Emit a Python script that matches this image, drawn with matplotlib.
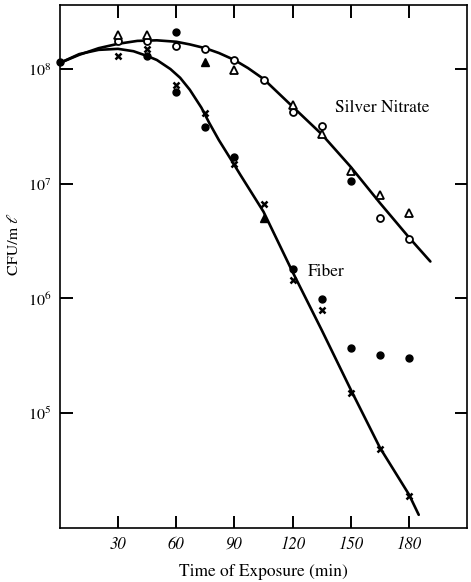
import matplotlib
matplotlib.use("Agg")
import matplotlib.pyplot as plt

plt.rcParams['font.family'] = ['STIXGeneral', 'DejaVu Serif']
plt.rcParams['mathtext.fontset'] = 'stix'

# ---- data (time in min, CFU/ml) ----
start_t = [0]
start_v = [1.15e8]

# Silver nitrate replicates
ag_circle_t = [30, 45, 60, 75, 90, 105, 120, 135, 165, 180]
ag_circle_v = [1.75e8, 1.75e8, 1.6e8, 1.5e8, 1.2e8, 8.0e7, 4.2e7, 3.2e7, 5.0e6, 3.3e6]
ag_tri_t = [30, 45, 90, 120, 135, 150, 165, 180]
ag_tri_v = [2.0e8, 2.0e8, 9.8e7, 4.9e7, 2.7e7, 1.3e7, 8.0e6, 5.6e6]
ag_fill_circle_t = [60, 150]
ag_fill_circle_v = [2.1e8, 1.05e7]
ag_fill_tri_t = [75]
ag_fill_tri_v = [1.15e8]

# Fiber replicates
fb_x_t = [30, 45, 60, 75, 90, 105, 120, 135, 150, 165, 180]
fb_x_v = [1.3e8, 1.5e8, 7.2e7, 4.1e7, 1.5e7, 6.6e6, 1.45e6, 7.9e5, 1.5e5, 4.9e4, 1.9e4]
fb_dot_t = [45, 60, 75, 90, 120, 135, 150, 165, 180]
fb_dot_v = [1.3e8, 6.3e7, 3.1e7, 1.7e7, 1.8e6, 9.8e5, 3.7e5, 3.2e5, 3.0e5]
fb_tri_t = [105]
fb_tri_v = [5.0e6]

# Fitted curves
ag_curve_t = [0, 10, 20, 30, 40, 50, 60, 67, 75, 82, 90, 97, 105, 120, 135, 150, 165, 180, 191]
ag_curve_v = [1.13e8, 1.33e8, 1.52e8, 1.66e8, 1.76e8, 1.78e8, 1.73e8, 1.64e8, 1.52e8,
              1.38e8, 1.2e8, 1.02e8, 8.2e7, 4.7e7, 2.7e7, 1.4e7, 6.8e6, 3.4e6, 2.1e6]
fb_curve_t = [0, 10, 20, 30, 38, 45, 50, 57, 62, 67, 73, 77, 82, 88, 93, 105, 120,
              135, 150, 165, 180, 185]
fb_curve_v = [1.13e8, 1.35e8, 1.47e8, 1.5e8, 1.43e8, 1.3e8, 1.2e8, 1.0e8, 8.4e7,
              6.6e7, 4.6e7, 3.4e7, 2.4e7, 1.65e7, 1.2e7, 5.7e6, 1.7e6,
              5.3e5, 1.6e5, 5.0e4, 1.95e4, 1.3e4]

x_ticks = [30, 60, 90, 120, 150, 180]
y_ticks = [1e5, 1e6, 1e7, 1e8]
y_ticklabels = [r'$10^5$', r'$10^6$', r'$10^7$', r'$10^8$']

fig = plt.figure(figsize=(4.71, 5.82), dpi=100)
ax = fig.add_axes([0.127, 0.093, 0.865, 0.898])

lw = 1.9
ax.plot(ag_curve_t, ag_curve_v, color='black', lw=lw, solid_capstyle='round',
        solid_joinstyle='round')
ax.plot(fb_curve_t, fb_curve_v, color='black', lw=lw, solid_capstyle='round',
        solid_joinstyle='round')

ms = 5
ax.plot(start_t, start_v, 'o', color='black', ms=ms, clip_on=False)
ax.plot(ag_circle_t, ag_circle_v, 'o', mfc='white', mec='black', mew=1.3, ms=ms)
ax.plot(ag_tri_t, ag_tri_v, '^', mfc='white', mec='black', mew=1.3, ms=ms + 0.5)
ax.plot(ag_fill_circle_t, ag_fill_circle_v, 'o', color='black', ms=ms)
ax.plot(ag_fill_tri_t, ag_fill_tri_v, '^', color='black', ms=ms + 0.5)
ax.plot(fb_x_t, fb_x_v, 'x', color='black', mew=1.8, ms=ms - 0.5)
ax.plot(fb_dot_t, fb_dot_v, 'o', color='black', ms=ms)
ax.plot(fb_tri_t, fb_tri_v, '^', color='black', ms=ms + 0.5)

ax.set_yscale('log')
ax.set_xlim(0, 210)
ax.set_ylim(1.0e4, 3.6e8)
ax.set_xticks(x_ticks)
ax.set_xticklabels([str(v) for v in x_ticks], fontsize=12, style='italic')
ax.set_yticks(y_ticks)
ax.set_yticklabels(y_ticklabels, fontsize=11.5)
ax.minorticks_off()
ax.tick_params(direction='in', top=True, right=True, length=9, width=1.4, pad=6)

for s in ax.spines.values():
    s.set_linewidth(1.2)

ax.text(142, 4.6e7, 'Silver Nitrate', fontsize=12.5, va='center', ha='left')
ax.text(128, 1.7e6, 'Fiber', fontsize=12.5, va='center', ha='left')

ax.set_xlabel('Time of Exposure (min)', fontsize=12.5, labelpad=8)
ax.set_ylabel('CFU/m \u2113', fontsize=11.5)
ax.yaxis.set_label_coords(-0.095, 0.543)

fig.savefig('out.png', dpi=100)
